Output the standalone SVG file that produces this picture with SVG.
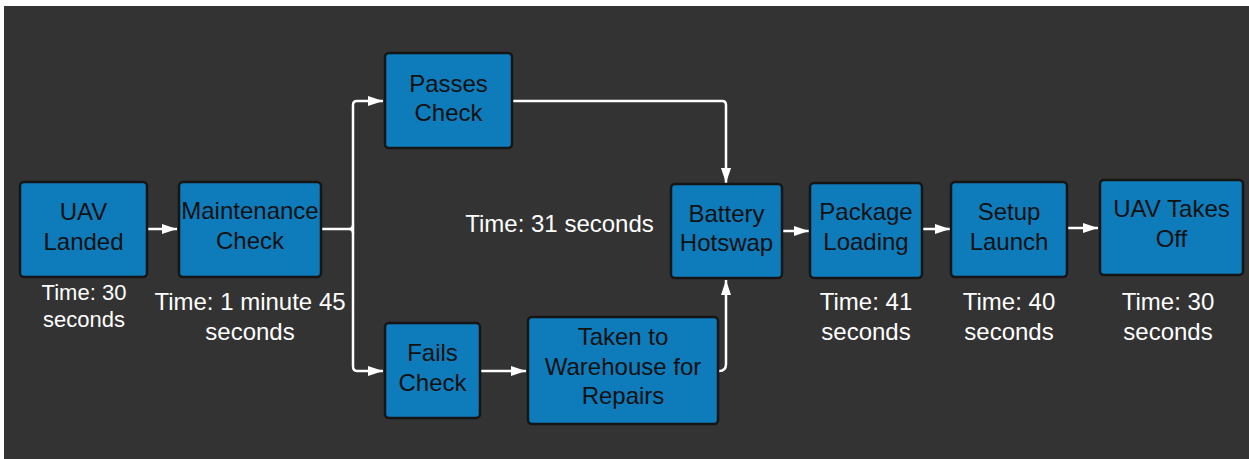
<svg xmlns="http://www.w3.org/2000/svg" width="1249" height="459" viewBox="0 0 1249 459">
<defs>
<style>
.node{fill:#0e7bbb;stroke:#151515;stroke-width:2.5}
.lbl{font-family:"Liberation Sans",Arial,sans-serif;font-size:24px;fill:#111;text-anchor:middle}
.tm{font-family:"Liberation Sans",Arial,sans-serif;font-size:24px;fill:#fff;text-anchor:middle}
.edge{fill:none;stroke:#fff;stroke-width:2.5;stroke-linejoin:round}
</style>
<marker id="ah" markerUnits="userSpaceOnUse" markerWidth="16" markerHeight="12" refX="15" refY="6" orient="auto">
<path d="M0,1 L15,6 L0,11 Z" fill="#fff"/>
</marker>
</defs>
<rect x="0" y="0" width="1249" height="459" fill="#ffffff"/>
<rect x="4" y="6" width="1245" height="453" fill="#333333"/>

<g id="connectors">
<path class="edge" d="M148,229 L177,229" marker-end="url(#ah)"/>
<path class="edge" d="M322,229 L349,229" stroke-width="3.5"/>
<path class="edge" d="M353,229 L353,105 Q353,101 357,101 L383,101" marker-end="url(#ah)"/>
<path class="edge" d="M353,229 L353,366 Q353,371 357,371 L383,371" marker-end="url(#ah)"/>
<path class="edge" d="M349,229 Q353,229 353,225 M349,229 Q353,229 353,233" />
<path class="edge" d="M513,101 L722,101 Q726,101 726,105 L726,183" marker-end="url(#ah)"/>
<path class="edge" d="M481,371 L526,371" marker-end="url(#ah)"/>
<path class="edge" d="M719,371 Q726,371 726,364 L726,280" marker-end="url(#ah)"/>
<path class="edge" d="M783,231 L809,231" marker-end="url(#ah)"/>
<path class="edge" d="M923,229 L950,229" marker-end="url(#ah)"/>
<path class="edge" d="M1068,228 L1098,228" marker-end="url(#ah)"/>
</g>

<g id="uav-landed">
<rect class="node" x="20" y="182" width="127" height="95" rx="4"/>
<text class="lbl" x="83.5" y="220">UAV</text>
<text class="lbl" x="83.5" y="250">Landed</text>
<text class="tm" x="84" y="300" style="font-size:22px">Time: 30</text>
<text class="tm" x="84" y="327" style="font-size:22px">seconds</text>
</g>

<g id="maintenance-check">
<rect class="node" x="179" y="182" width="142" height="95" rx="4"/>
<text class="lbl" x="250" y="219">Maintenance</text>
<text class="lbl" x="250" y="249">Check</text>
<text class="tm" x="250" y="310">Time: 1 minute 45</text>
<text class="tm" x="250" y="340">seconds</text>
</g>

<g id="passes-check">
<rect class="node" x="385" y="53" width="127" height="95" rx="4"/>
<text class="lbl" x="448.5" y="92">Passes</text>
<text class="lbl" x="448.5" y="121">Check</text>
</g>

<g id="fails-check">
<rect class="node" x="385" y="323" width="95" height="95" rx="4"/>
<text class="lbl" x="432.5" y="361">Fails</text>
<text class="lbl" x="432.5" y="391">Check</text>
</g>

<g id="warehouse">
<rect class="node" x="528" y="317" width="190" height="107" rx="4"/>
<text class="lbl" x="623" y="345">Taken to</text>
<text class="lbl" x="623" y="375">Warehouse for</text>
<text class="lbl" x="623" y="404">Repairs</text>
</g>

<g id="battery-hotswap">
<rect class="node" x="671" y="184" width="111" height="94" rx="4"/>
<text class="lbl" x="726.5" y="222">Battery</text>
<text class="lbl" x="726.5" y="251">Hotswap</text>
<text class="tm" x="559.5" y="232">Time: 31 seconds</text>
</g>

<g id="package-loading">
<rect class="node" x="810" y="183" width="112" height="95" rx="4"/>
<text class="lbl" x="866" y="220">Package</text>
<text class="lbl" x="866" y="250">Loading</text>
<text class="tm" x="866" y="310">Time: 41</text>
<text class="tm" x="866" y="340">seconds</text>
</g>

<g id="setup-launch">
<rect class="node" x="951" y="182" width="116" height="95" rx="4"/>
<text class="lbl" x="1009" y="220">Setup</text>
<text class="lbl" x="1009" y="250">Launch</text>
<text class="tm" x="1009" y="310">Time: 40</text>
<text class="tm" x="1009" y="340">seconds</text>
</g>

<g id="uav-takes-off">
<rect class="node" x="1100" y="180" width="143" height="95" rx="4"/>
<text class="lbl" x="1171.5" y="217">UAV Takes</text>
<text class="lbl" x="1171.5" y="247">Off</text>
<text class="tm" x="1168" y="310">Time: 30</text>
<text class="tm" x="1168" y="340">seconds</text>
</g>
</svg>
